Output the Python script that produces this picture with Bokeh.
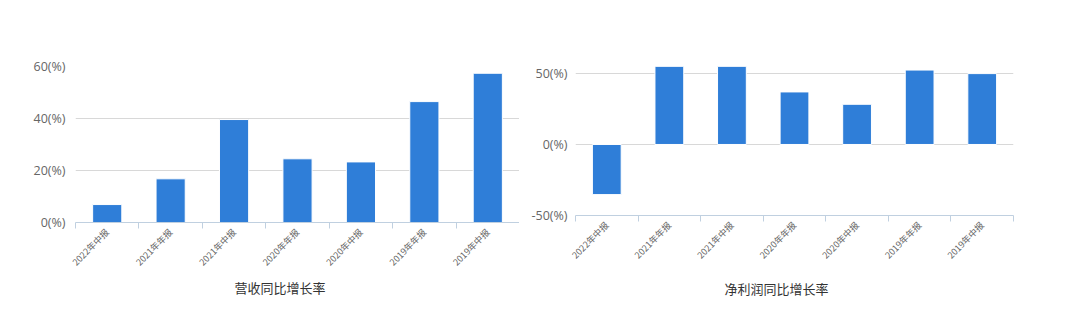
from bokeh.plotting import figure
from bokeh.layouts import row
from bokeh.models import Range1d, FixedTicker, Title, ColumnDataSource
from bokeh.embed import file_html
from bokeh.resources import INLINE

categories = ["2022年中报", "2021年年报", "2021年中报", "2020年年报", "2020年中报", "2019年年报", "2019年中报"]
revenue_growth = [6.9, 16.8, 39.6, 24.5, 23.3, 46.5, 57.4]
profit_growth = [-35.3, 55.4, 55.4, 37.0, 28.3, 52.4, 49.9]
left_ticks = [0, 20, 40, 60]
right_ticks = [-50, 0, 50]
left_title = "营收同比增长率"
right_title = "净利润同比增长率"

BAR = "#2f7ed8"
GRID = "#d8d8d8"
AXIS = "#c0d0e0"
LABEL = "#666666"


def make_chart(values, yticks, y0, y1, title, fw, fh, borders, ystand, toff, gap):
    n = len(categories)
    src = ColumnDataSource(dict(x=[i + 0.5 for i in range(n)], top=values, cat=categories))
    p = figure(frame_width=fw, frame_height=fh, output_backend="svg", toolbar_location=None,
               x_range=Range1d(0, n), y_range=Range1d(y0, y1),
               min_border_left=borders[0], min_border_right=borders[1],
               min_border_top=borders[2], min_border_bottom=borders[3])
    p.outline_line_color = None
    p.vbar(x="x", top="top", bottom=0, width=0.46, source=src,
           fill_color=BAR, line_color="#ffffff", line_width=1)
    # x axis
    xa = p.xaxis[0]
    xa.ticker = FixedTicker(ticks=[i + 0.5 for i in range(n)], minor_ticks=list(range(n + 1)))
    xa.major_label_overrides = {i + 0.5: c for i, c in enumerate(categories)}
    xa.major_tick_in = 0
    xa.major_tick_out = 0
    xa.minor_tick_in = 0
    xa.minor_tick_out = 6
    xa.minor_tick_line_color = AXIS
    xa.axis_line_color = AXIS
    xa.axis_line_width = 1
    xa.major_label_orientation = 0.785398
    xa.major_label_text_font = "Noto Sans CJK SC"
    xa.major_label_text_font_size = "9px"
    xa.major_label_text_color = LABEL
    xa.major_label_standoff = 2
    # y axis
    ya = p.yaxis[0]
    ya.ticker = FixedTicker(ticks=yticks)
    ya.major_label_overrides = {t: f"{t}(%)" for t in yticks}
    ya.axis_line_color = None
    ya.major_tick_in = 0
    ya.major_tick_out = 0
    ya.minor_tick_in = 0
    ya.minor_tick_out = 0
    ya.major_label_standoff = ystand
    ya.major_label_text_font = "Open Sans"
    ya.major_label_text_font_size = "12.5px"
    ya.major_label_text_color = LABEL
    p.xgrid.grid_line_color = None
    p.ygrid.grid_line_color = GRID
    p.ygrid.ticker = FixedTicker(ticks=[t for t in yticks if t != y0])
    if gap:
        p.add_layout(Title(text=" ", text_font_size=f"{gap}px", standoff=0), "below")
    t = Title(text=title, align="left", offset=toff, text_font="Noto Sans CJK SC",
              text_font_size="13px", text_font_style="normal", text_color="#333333", standoff=0)
    p.add_layout(t, "below")
    return p


left = make_chart(revenue_growth, left_ticks, 0, 60, left_title, 444, 156, (75, 0, 66, 10), 10, 159, 0)
right = make_chart(profit_growth, right_ticks, -50, 54.9, right_title, 438, 149, (56, 66, 66, 10), 8, 149, 5)

layout = row(left, right, spacing=0)
open("out.html", "w").write(file_html(layout, INLINE))
